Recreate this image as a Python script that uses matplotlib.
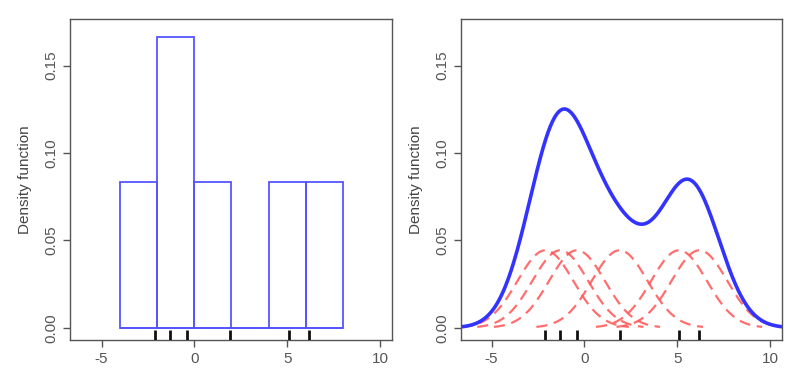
import numpy as np
import matplotlib
matplotlib.use("Agg")
import matplotlib.pyplot as plt
import matplotlib.transforms as mtransforms

# sample points (rug)
samples = [-2.1, -1.3, -0.4, 1.9, 5.1, 6.2]
bin_edges = [-4, -2, 0, 2, 4, 6, 8]
bandwidth = 1.5

xticks = [-5, 0, 5, 10]
yticks = [0.00, 0.05, 0.10, 0.15]
ytick_labels = ["0.00", "0.05", "0.10", "0.15"]

grey = "#555555"
plt.rcParams['font.family'] = ['Liberation Sans', 'DejaVu Sans']

fig = plt.figure(figsize=(8, 3.76), dpi=100)
ax1 = fig.add_axes([70/800, 36/376, 322/800, 321/376])
ax2 = fig.add_axes([461/800, 36/376, 321/800, 321/376])

def style(ax):
    ax.set_xlim(-6.7, 10.65)
    ax.set_ylim(-0.007, 0.1767)
    ax.set_xticks(xticks)
    ax.set_xticklabels([str(t) for t in xticks])
    ax.set_yticks(yticks)
    ax.set_yticklabels(ytick_labels, rotation=90, va="center")
    ax.tick_params(direction="out", length=5, width=1, colors=grey,
                   labelsize=11, labelcolor=grey)
    for s in ax.spines.values():
        s.set_color(grey)
        s.set_linewidth(1)
    ax.set_ylabel("Density function", fontsize=11, color="#444444", labelpad=9)
    trans = mtransforms.blended_transform_factory(ax.transData, ax.transAxes)
    ax.vlines(samples, 0, 0.03, colors="#111111", lw=2, transform=trans, zorder=5)

# left: histogram
ax1.hist(samples, bins=bin_edges, density=True, histtype="bar",
         facecolor="none", edgecolor="#5555ff", linewidth=1.3)
ax1.hlines(0, bin_edges[0], bin_edges[-1], colors="#5555ff", lw=1.3)
style(ax1)

# right: kernel density estimate
n = len(samples)
xs = np.linspace(-6.7, 10.65, 600)
total = np.zeros_like(xs)
for s in samples:
    k = np.exp(-0.5 * ((xs - s) / bandwidth) ** 2) / (np.sqrt(2 * np.pi) * bandwidth * n)
    total += k
    m = np.abs(xs - s) <= 3 * bandwidth
    ax2.plot(xs[m], k[m], color="#ff5555", lw=1.6, ls=(0, (5, 3)), alpha=0.85)
ax2.plot(xs, total, color="#3333ff", lw=2.6)
style(ax2)
ax2.set_xlim(-6.65, 10.65)

fig.savefig("out.png", dpi=100)
